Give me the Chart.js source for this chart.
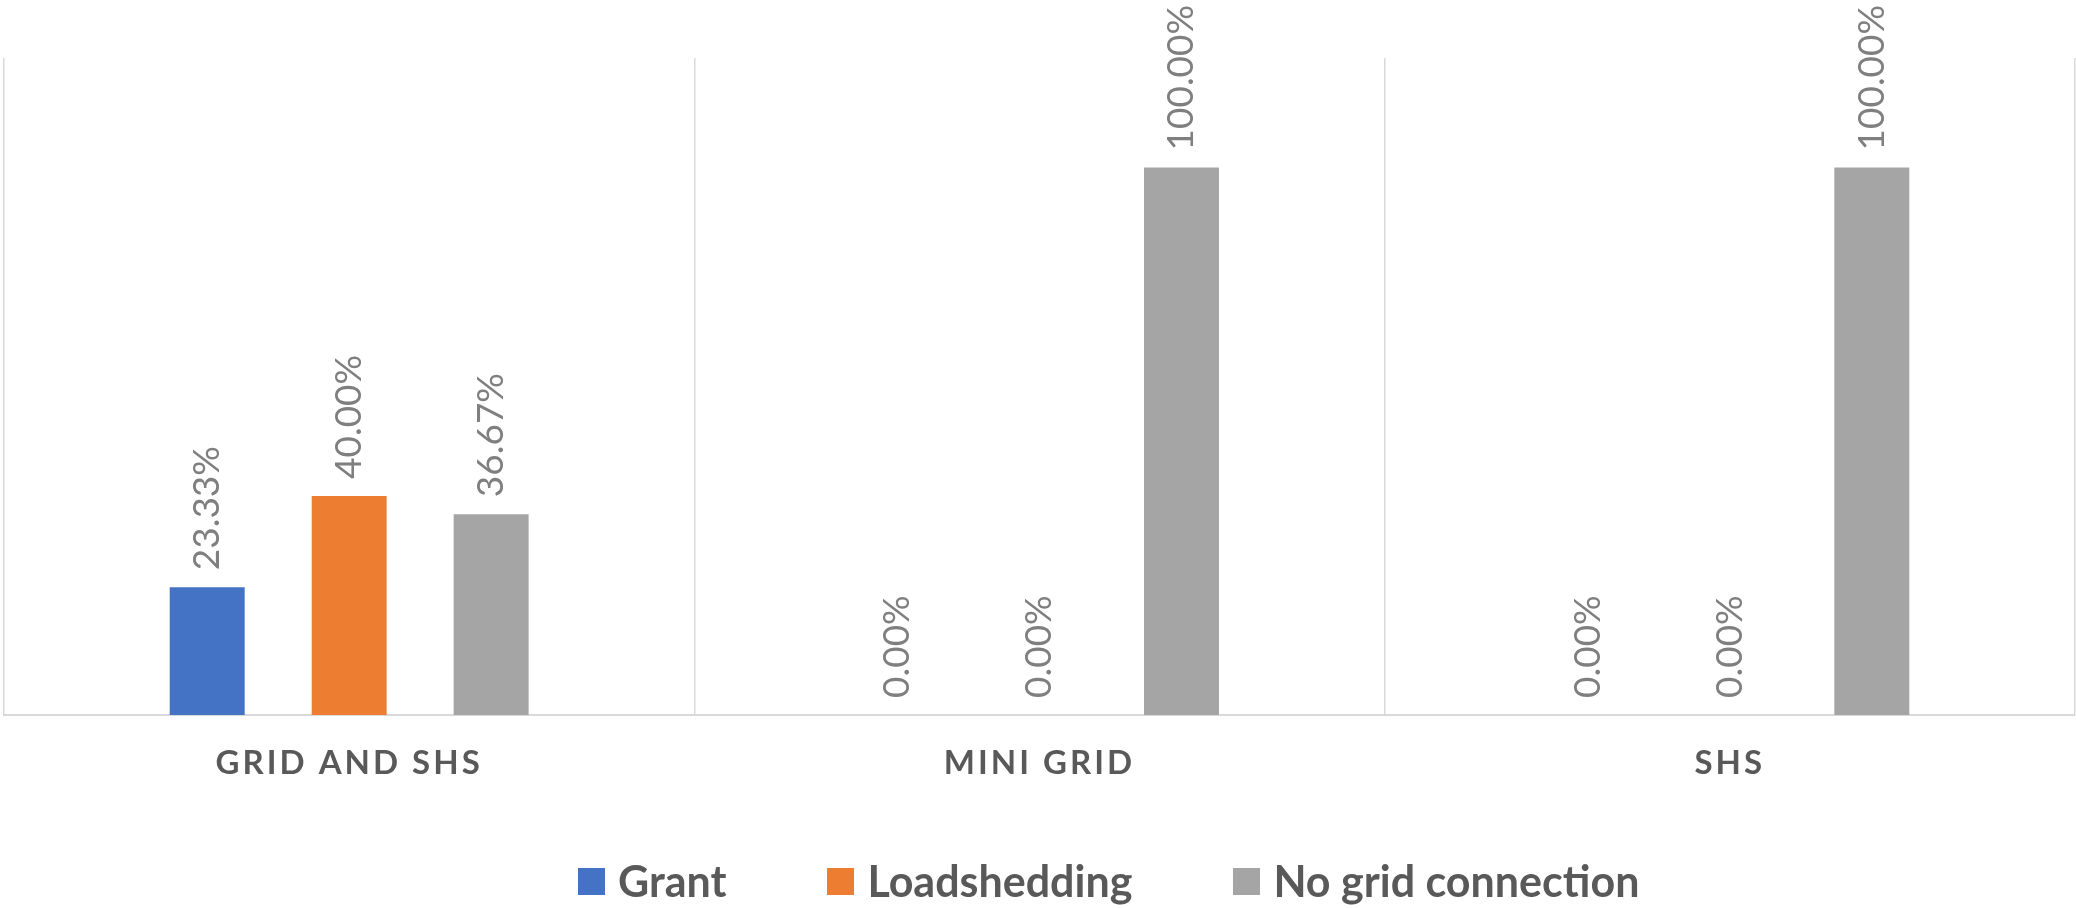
<!DOCTYPE html>
<html>
<head>
<meta charset="utf-8">
<script src="https://cdn.jsdelivr.net/npm/chart.js@4"></script>
<style>
  body { margin: 0; background: #fff; }
  #wrap { position: relative; width: 2076px; height: 908px; }
  #legend-container ul {
    position: absolute; left: 578px; top: 860px;
    display: flex; align-items: center; margin: 0; padding: 0; list-style: none;
  }
  #legend-container li { display: flex; align-items: center; margin-right: 101px; }
  #legend-container span { display: inline-block; width: 27px; height: 27px; margin-right: 13px; }
  #legend-container p {
    margin: 0; font-family: Lato, sans-serif; font-weight: 700; font-size: 43px;
    line-height: 42px; color: #595959;
  }
</style>
</head>
<body>
<div id="wrap">
  <canvas id="myChart"></canvas>
  <div id="legend-container"></div>
</div>
<script>
// 카테고리 / 시리즈 값 (%)
const categories = ["GRID AND SHS", "MINI GRID", "SHS"];
const grantValues = [23.33, 0, 0];
const loadsheddingValues = [40.0, 0, 0];
const noGridValues = [36.67, 100, 100];
const seriesNames = ["Grant", "Loadshedding", "No grid connection"];
const seriesColors = ["#4472C4", "#ED7D31", "#A5A5A5"];

// ----------------범례 (HTML)----------------
const htmlLegendPlugin = {
  id: "htmlLegend",
  afterUpdate(chart, args, options) {
    const box = document.getElementById(options.containerID);
    let ul = box.querySelector("ul");
    if (!ul) {
      ul = document.createElement("ul");
      box.appendChild(ul);
    }
    while (ul.firstChild) {
      ul.firstChild.remove();
    }
    const items = chart.options.plugins.legend.labels.generateLabels(chart);
    items.forEach((item) => {
      const li = document.createElement("li");
      const boxSpan = document.createElement("span");
      boxSpan.style.background = item.fillStyle;
      const p = document.createElement("p");
      p.appendChild(document.createTextNode(item.text));
      li.appendChild(boxSpan);
      li.appendChild(p);
      ul.appendChild(li);
    });
  },
};

// x축 라벨 자간
const tickSpacingPlugin = {
  id: "tickSpacing",
  beforeDraw(chart) {
    chart.ctx.letterSpacing = "3px";
  },
  beforeDatasetsDraw(chart) {
    chart.ctx.letterSpacing = "0px";
  },
};

// 막대 위 세로 값 라벨
const barLabelPlugin = {
  id: "barLabels",
  afterDatasetsDraw(chart) {
    const ctx = chart.ctx;
    ctx.save();
    ctx.font = "37px Lato, sans-serif";
    ctx.fillStyle = "#7f7f7f";
    ctx.textAlign = "left";
    ctx.textBaseline = "middle";
    chart.data.datasets.forEach((ds, i) => {
      chart.getDatasetMeta(i).data.forEach((bar, j) => {
        ctx.save();
        ctx.translate(bar.x, bar.y - 17);
        ctx.rotate(-Math.PI / 2);
        ctx.fillText(ds.data[j].toFixed(2) + "%", 0, 0);
        ctx.restore();
      });
    });
    ctx.restore();
  },
};

const data = {
  labels: categories,
  datasets: [
    { label: seriesNames[0], data: grantValues, backgroundColor: seriesColors[0] },
    { label: seriesNames[1], data: loadsheddingValues, backgroundColor: seriesColors[1] },
    { label: seriesNames[2], data: noGridValues, backgroundColor: seriesColors[2] },
  ],
};

const config = {
  type: "bar",
  data: data,
  options: {
    maintainAspectRatio: false,
    responsive: true,
    animation: false,
    categoryPercentage: 0.617,
    barPercentage: 0.528,
    layout: { padding: { left: 4, right: 1, top: 58, bottom: 0 } },
    plugins: {
      htmlLegend: { containerID: "legend-container" },
      legend: { display: false },
      tooltip: { enabled: false },
    },
    scales: {
      x: {
        grid: { color: "#d9d9d9", lineWidth: 1.5, drawTicks: false },
        border: { display: true, color: "#d9d9d9", width: 2 },
        ticks: {
          color: "#595959",
          padding: 29,
          font: { family: "Lato", weight: "bold", size: 33 },
        },
        afterFit(scale) {
          scale.height = 193;
        },
      },
      y: {
        display: false,
        min: 0,
        max: 120,
      },
    },
  },
  plugins: [htmlLegendPlugin, tickSpacingPlugin, barLabelPlugin],
};

new Chart(document.getElementById("myChart"), config);
</script>
</body>
</html>
